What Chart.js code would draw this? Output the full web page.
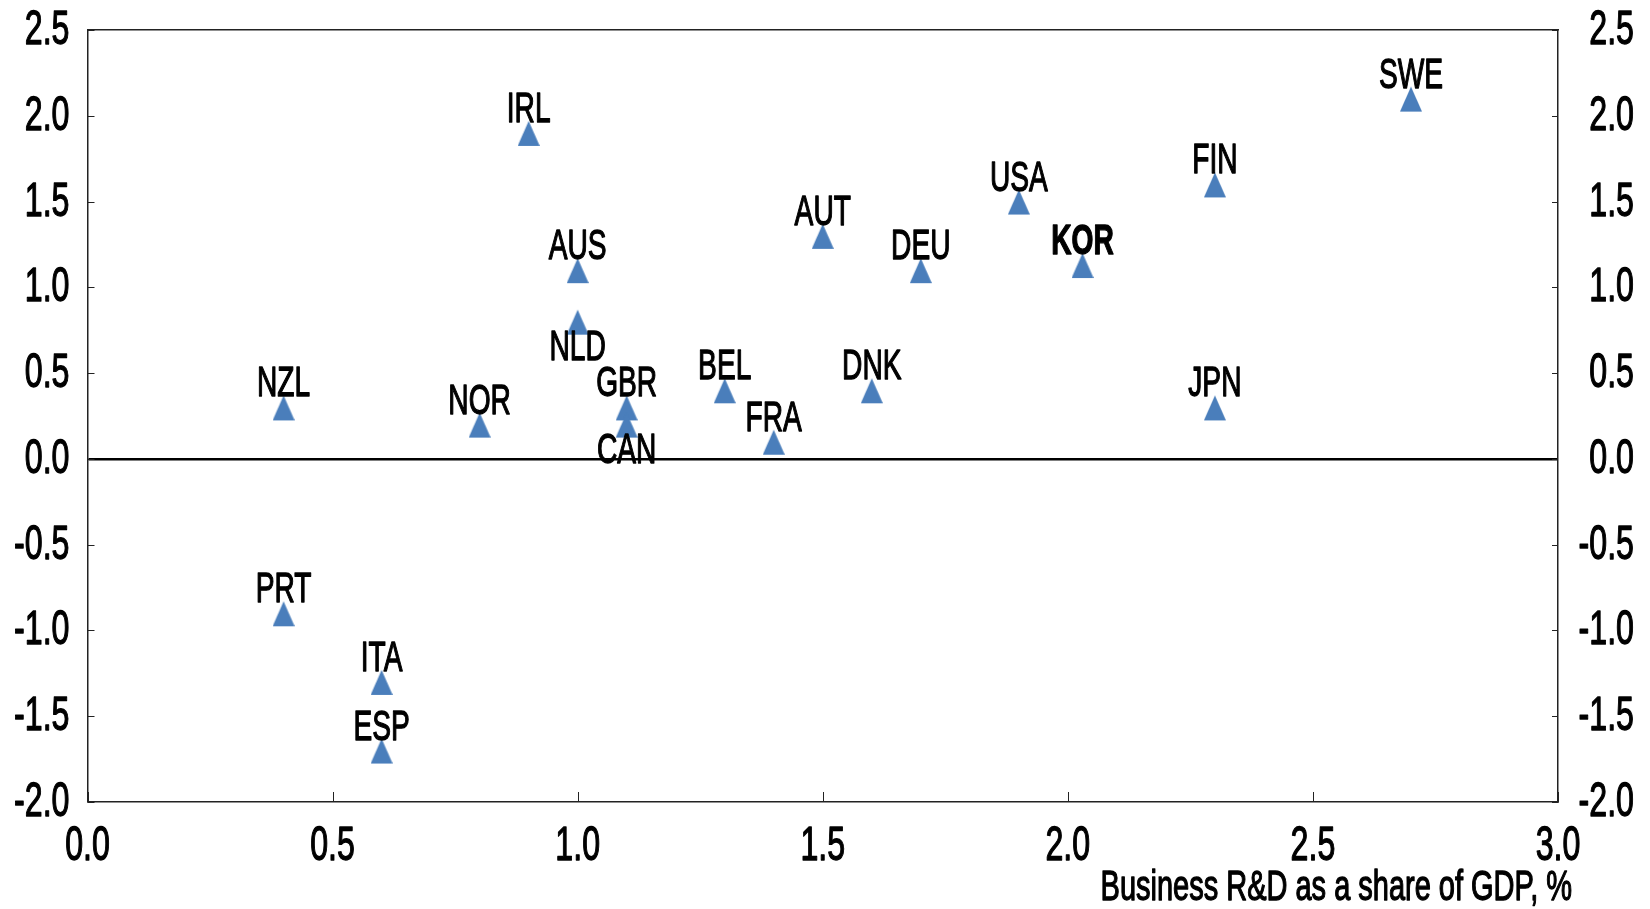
<!DOCTYPE html>
<html>
<head>
<meta charset="utf-8">
<script src="https://cdn.jsdelivr.net/npm/chart.js"></script>
<style>
  html, body { margin: 0; padding: 0; background: #fff; }
  #wrap { width: 1650px; height: 909px; }
</style>
</head>
<body>
<div id="wrap"><canvas id="myChart" width="1650" height="909"></canvas></div>
<script>
// Countries and their values
const countries = ["IRL", "SWE", "FIN", "USA", "AUT", "DEU", "KOR", "AUS", "NLD", "NZL",
  "NOR", "GBR", "CAN", "BEL", "FRA", "DNK", "JPN", "PRT", "ITA", "ESP"];
const businessRd = [0.9, 2.7, 2.3, 1.9, 1.5, 1.7, 2.03, 1.0, 1.0, 0.4,
  0.8, 1.1, 1.1, 1.3, 1.4, 1.6, 2.3, 0.4, 0.6, 0.6];
const yValues = [1.9, 2.1, 1.6, 1.5, 1.3, 1.1, 1.13, 1.1, 0.8, 0.3,
  0.2, 0.3, 0.2, 0.4, 0.1, 0.4, 0.3, -0.9, -1.3, -1.7];
const labelsBelow = ["NLD", "CAN"];
const boldLabels = ["KOR"];

const xTicks = [0, 0.5, 1.0, 1.5, 2.0, 2.5, 3.0];
const yTicks = [-2.0, -1.5, -1.0, -0.5, 0, 0.5, 1.0, 1.5, 2.0, 2.5];
const xTitle = "Business R&D as a share of GDP, %";

const FONT = "'Liberation Sans', Arial, sans-serif";
const SQUEEZE = 0.67; // the original lettering is very narrow

// Triangle marker (a bit taller than wide, like the original)
function makeTriangle() {
  const c = document.createElement("canvas");
  c.width = 22;
  c.height = 30;
  const g = c.getContext("2d");
  g.fillStyle = "#4a7ebb";
  g.beginPath();
  g.moveTo(11, 3);
  g.lineTo(22, 28);
  g.lineTo(0, 28);
  g.closePath();
  g.fill();
  return c;
}

// draws narrow (and slightly heavier) text at x,y
function narrowText(ctx, text, x, y, size, align, weight, squeeze) {
  ctx.save();
  ctx.font = `${weight || "normal"} ${size}px ${FONT}`;
  ctx.fillStyle = "#000";
  ctx.strokeStyle = "#000";
  ctx.lineWidth = 1.3;
  ctx.lineJoin = "round";
  ctx.textAlign = align;
  ctx.textBaseline = "alphabetic";
  ctx.translate(x, y);
  ctx.scale(squeeze || SQUEEZE, 1);
  ctx.fillText(text, 0, 0);
  ctx.strokeText(text, 0, 0);
  ctx.restore();
}

const points = countries.map((c, i) => ({ x: businessRd[i], y: yValues[i], label: c }));

function setTicks(list) {
  return (scale) => {
    scale.ticks = list.map((v) => ({ value: v }));
  };
}

const ctx = document.getElementById("myChart");

const chart = new Chart(ctx, {
  type: "scatter",
  data: {
    datasets: [
      {
        label: "Countries",
        data: points,
        pointStyle: makeTriangle(),
        pointRadius: 12,
        pointHoverRadius: 12,
      },
    ],
  },
  options: {
    responsive: false,
    animation: false,
    layout: {
      padding: { left: 87.5, right: 92, top: 30, bottom: 107 },
    },
    scales: {
      x: {
        type: "linear",
        position: "bottom",
        min: 0,
        max: 3,
        afterBuildTicks: setTicks(xTicks),
        ticks: { display: false },
        grid: { display: false, drawTicks: false },
        border: { color: "#222", width: 1.5 },
      },
      xTop: {
        type: "linear",
        position: "top",
        min: 0,
        max: 3,
        ticks: { display: false },
        grid: { display: false, drawTicks: false },
        border: { color: "#222", width: 1.5 },
      },
      y: {
        type: "linear",
        position: "left",
        min: -2,
        max: 2.5,
        afterBuildTicks: setTicks(yTicks),
        ticks: { display: false },
        grid: {
          drawTicks: false,
          // only the zero line is shown
          color: (c) => (c.tick && c.tick.value === 0 ? "#000" : "rgba(0,0,0,0)"),
          lineWidth: (c) => (c.tick && c.tick.value === 0 ? 2.5 : 0),
        },
        border: { color: "#222", width: 1.5 },
      },
      yRight: {
        type: "linear",
        position: "right",
        min: -2,
        max: 2.5,
        afterBuildTicks: setTicks(yTicks),
        ticks: { display: false },
        grid: { display: false, drawTicks: false },
        border: { color: "#222", width: 1.5 },
      },
    },
    plugins: {
      legend: { display: false },
      tooltip: { enabled: false },
    },
  },
  plugins: [
    {
      id: "axis_ticks_and_labels",
      afterDraw(chart) {
        const { ctx, chartArea, scales } = chart;
        const { left, right, top, bottom } = chartArea;

        // inward tick marks
        ctx.save();
        ctx.strokeStyle = "#222";
        ctx.lineWidth = 1;
        ctx.beginPath();
        scales.y.ticks.forEach((t) => {
          const py = Math.round(scales.y.getPixelForValue(t.value)) + 0.5;
          ctx.moveTo(left, py);
          ctx.lineTo(left + 7, py);
          ctx.moveTo(right - 6, py);
          ctx.lineTo(right, py);
        });
        scales.x.ticks.forEach((t) => {
          const px = Math.round(scales.x.getPixelForValue(t.value)) + 0.5;
          ctx.moveTo(px, bottom);
          ctx.lineTo(px, bottom - 10);
        });
        ctx.stroke();
        ctx.restore();

        // tick labels
        scales.y.ticks.forEach((t) => {
          const py = scales.y.getPixelForValue(t.value);
          const txt = t.value.toFixed(1);
          narrowText(ctx, txt, left - 18, py + 14, 48, "right");
          narrowText(ctx, txt, right + 76, py + 14, 48, "right");
        });
        scales.x.ticks.forEach((t) => {
          const px = scales.x.getPixelForValue(t.value);
          narrowText(ctx, t.value.toFixed(1), px, bottom + 58, 48, "center");
        });

        // axis title
        narrowText(ctx, xTitle, right + 14, 900, 42, "right", "normal", 0.69);
      },
    },
    {
      id: "point_labels",
      afterDatasetsDraw(chart) {
        const { ctx } = chart;
        const meta = chart.getDatasetMeta(0);
        meta.data.forEach((pt, i) => {
          const name = countries[i];
          const { x, y } = pt.getProps(["x", "y"], true);
          const below = labelsBelow.includes(name);
          const weight = boldLabels.includes(name) ? "bold" : "normal";
          narrowText(ctx, name, x, below ? y + 38 : y - 11, 42, "center", weight);
        });
      },
    },
  ],
});
</script>
</body>
</html>
